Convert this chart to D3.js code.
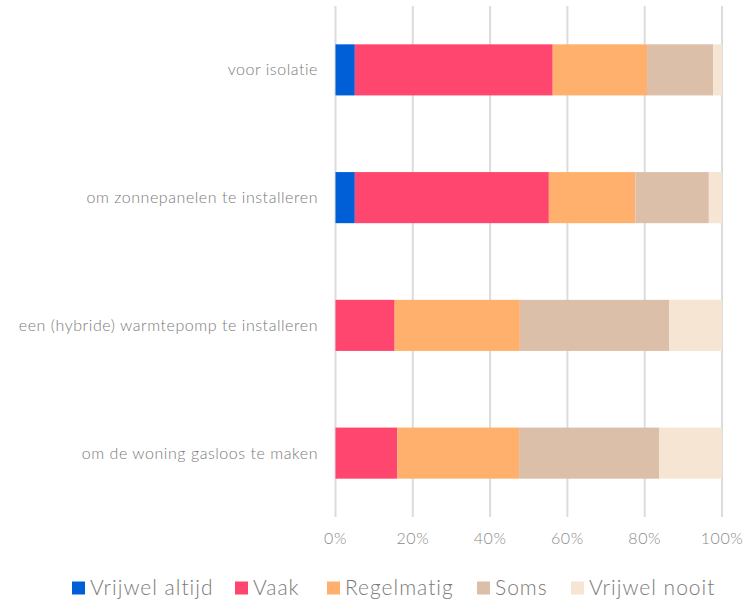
<!DOCTYPE html>
<html>
<head>
<meta charset="utf-8">
<script src="https://cdn.jsdelivr.net/npm/d3@7"></script>
<style>
  body { margin: 0; background: #fff; }
  text { font-family: Lato, "Open Sans", sans-serif; font-weight: 300; }
</style>
</head>
<body>
<div id="chart"><svg width="755" height="600"></svg></div>
<script>
// categories (top to bottom)
const categories = ["voor isolatie", "om zonnepanelen te installeren", "een (hybride) warmtepomp te installeren", "om de woning gasloos te maken"];
const seriesNames = ["Vrijwel altijd", "Vaak", "Regelmatig", "Soms", "Vrijwel nooit"];
const colors = ["#005fd6", "#ff466e", "#ffb06c", "#dcbfa8", "#f6e5d2"];

// percentages per series, in category order
const vrijwelAltijd = [5.0, 5.0, 0, 0];
const vaak = [51.2, 50.2, 15.3, 16.0];
const regelmatig = [24.4, 22.4, 32.4, 31.5];
const soms = [17.1, 19.0, 38.6, 36.2];
const vrijwelNooit = [2.3, 3.4, 13.7, 16.3];

const tickValues = [0, 20, 40, 60, 80, 100];

const rows = categories.map((c, i) => ({
    cat: c,
    "Vrijwel altijd": vrijwelAltijd[i],
    "Vaak": vaak[i],
    "Regelmatig": regelmatig[i],
    "Soms": soms[i],
    "Vrijwel nooit": vrijwelNooit[i]
}));

const svg = d3.select("#chart svg");

const x = d3.scaleLinear().domain([0, 100]).range([335.5, 722]);
const y = d3.scaleBand().domain(categories).range([6, 517]).paddingInner(0.6).paddingOuter(0.3);
const color = d3.scaleOrdinal().domain(seriesNames).range(colors);

// gridlines
svg.append("g")
    .selectAll("line")
    .data(tickValues)
    .join("line")
    .attr("x1", d => x(d))
    .attr("x2", d => x(d))
    .attr("y1", 6)
    .attr("y2", 517)
    .attr("stroke", "#dcdcdc")
    .attr("stroke-width", 2);

const stack = d3.stack().keys(seriesNames)(rows);

svg.append("g")
    .selectAll("g")
    .data(stack)
    .join("g")
    .attr("fill", d => color(d.key))
    .selectAll("rect")
    .data(d => d)
    .join("rect")
    .attr("x", d => x(d[0]))
    .attr("y", d => y(d.data.cat))
    .attr("width", d => x(d[1]) - x(d[0]))
    .attr("height", y.bandwidth());

// category labels
svg.append("g")
    .selectAll("text")
    .data(categories)
    .join("text")
    .attr("x", 318)
    .attr("y", d => y(d) + y.bandwidth() / 2)
    .attr("dy", "0.35em")
    .attr("text-anchor", "end")
    .attr("fill", "#7a7a7a")
    .attr("font-size", 16)
    .attr("letter-spacing", 0.55)
    .text(d => d);

// x axis labels
svg.append("g")
    .selectAll("text")
    .data(tickValues)
    .join("text")
    .attr("x", d => x(d))
    .attr("y", 538)
    .attr("dy", "0.35em")
    .attr("text-anchor", "middle")
    .attr("fill", "#8a8a8a")
    .attr("font-size", 16)
    .attr("letter-spacing", 0.6)
    .text(d => d + "%");

// legend
const legendX = [72, 235, 327, 477, 571];
const legend = svg.append("g")
    .selectAll("g")
    .data(seriesNames)
    .join("g")
    .attr("transform", (d, i) => `translate(${legendX[i]},588)`);

legend.append("rect")
    .attr("x", 0)
    .attr("y", -6.5)
    .attr("width", 13)
    .attr("height", 13)
    .attr("fill", d => color(d));

legend.append("text")
    .attr("x", 18)
    .attr("dy", "0.35em")
    .attr("fill", "#7a7a7a")
    .attr("font-size", 21)
    .attr("letter-spacing", 1.0)
    .text(d => d);
</script>
</body>
</html>
